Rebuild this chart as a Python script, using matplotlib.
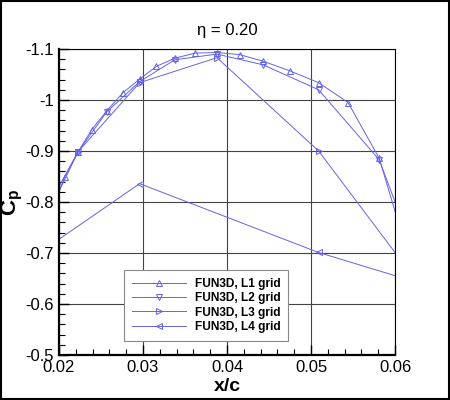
import numpy as np
import matplotlib.pyplot as plt
from matplotlib.ticker import MultipleLocator
from matplotlib.patches import Rectangle

plt.rcParams['font.family'] = ['Liberation Sans', 'DejaVu Sans']
plt.rcParams['mathtext.fontset'] = 'custom'
plt.rcParams['mathtext.rm'] = 'Liberation Sans'
plt.rcParams['mathtext.bf'] = 'Liberation Sans:bold'

# surface pressure near the leading edge, eta = 0.20
x_l1 = [0.0185, 0.0207, 0.0223, 0.0239, 0.0257, 0.0276, 0.0296, 0.0316, 0.0338,
        0.0362, 0.0388, 0.0415, 0.0443, 0.0475, 0.0509, 0.0544, 0.0581, 0.0625]
cp_l1 = [-0.755, -0.850, -0.899, -0.942, -0.979, -1.014, -1.041, -1.066, -1.082,
         -1.092, -1.093, -1.089, -1.076, -1.057, -1.034, -0.995, -0.886, -0.644]

x_l2 = [0.0185, 0.0223, 0.0257, 0.0296, 0.0338, 0.0388, 0.0443, 0.0509, 0.0581, 0.0625]
cp_l2 = [-0.770, -0.899, -0.977, -1.036, -1.079, -1.090, -1.069, -1.020, -0.883, -0.691]

x_l3 = [0.0185, 0.0223, 0.0296, 0.0388, 0.0509, 0.0625]
cp_l3 = [-0.785, -0.899, -1.034, -1.083, -0.900, -0.646]

x_l4 = [0.0106, 0.0296, 0.0509, 0.0725]
cp_l4 = [-0.620, -0.836, -0.701, -0.593]

series = [
    (x_l1, cp_l1, '^', 'FUN3D, L1 grid'),
    (x_l2, cp_l2, 'v', 'FUN3D, L2 grid'),
    (x_l3, cp_l3, '>', 'FUN3D, L3 grid'),
    (x_l4, cp_l4, '<', 'FUN3D, L4 grid'),
]

blue = '#6363e8'

fig = plt.figure(figsize=(4.5, 4.0), dpi=100)
ax = fig.add_axes([0.131, 0.1125, 0.747, 0.765])

for xs, ys, m, lab in series:
    ax.plot(xs, ys, color=blue, lw=0.7, marker=m, markersize=5,
            markerfacecolor='none', markeredgecolor=blue, markeredgewidth=0.7,
            label=lab)

ax.set_xlim(0.02, 0.06)
ax.set_ylim(-0.5, -1.1)
ax.xaxis.set_major_locator(MultipleLocator(0.01))
ax.xaxis.set_minor_locator(MultipleLocator(0.002))
ax.yaxis.set_major_locator(MultipleLocator(0.1))
ax.yaxis.set_minor_locator(MultipleLocator(0.02))
ax.set_xticklabels([f'{v:g}' for v in ax.get_xticks()])
ax.set_yticklabels([f'{v:g}' for v in ax.get_yticks()])
ax.tick_params(which='both', direction='in', top=False, right=False, labelsize=12)
ax.tick_params(which='major', length=7, width=1)
ax.tick_params(which='minor', length=4, width=0.8)
ax.grid(True, which='major', color='#444444', lw=0.8)
ax.set_axisbelow(True)

for s in ['left', 'bottom']:
    ax.spines[s].set_linewidth(1.6)
for s in ['top', 'right']:
    ax.spines[s].set_linewidth(0.8)

ax.set_xlabel('x/c', fontsize=14, fontweight='bold', labelpad=2)
ax.set_ylabel(r'$\mathbf{C_p}$', fontsize=16)
ax.yaxis.set_label_coords(-0.10, 0.5)
ax.set_title('\u03b7 = 0.20', fontsize=12, pad=10)

leg = ax.legend(loc='upper left', bbox_to_anchor=(0.1935, 0.278),
                handlelength=4.5, prop={'weight': 'bold', 'size': 8.6},
                fancybox=False, framealpha=1, edgecolor='#888888',
                borderpad=0.66, labelspacing=0.2, handletextpad=0.75,
                borderaxespad=0)
leg.get_frame().set_linewidth(0.8)

fig.patches.append(Rectangle((0.002, 0.002), 0.996, 0.996, transform=fig.transFigure,
                             fill=False, edgecolor='black', lw=1.5))

fig.savefig('out.png', dpi=100)
